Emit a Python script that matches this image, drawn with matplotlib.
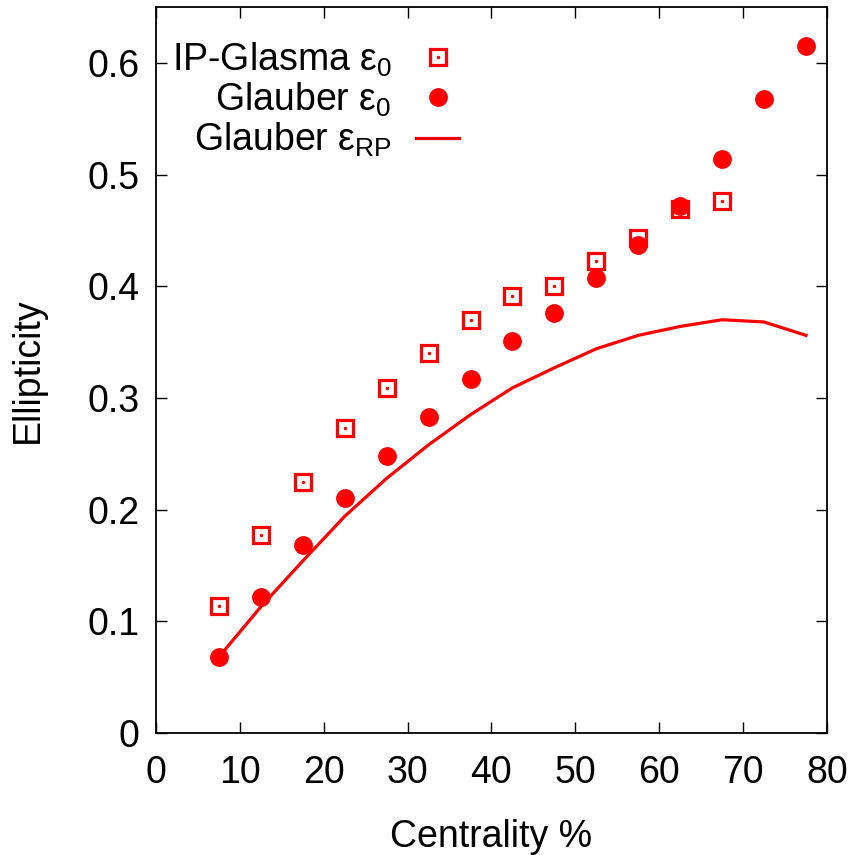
import matplotlib
matplotlib.use("Agg")
import matplotlib.pyplot as plt
from matplotlib.legend_handler import HandlerTuple

# centrality bin centres
cent_ip = [7.5, 12.5, 17.5, 22.5, 27.5, 32.5, 37.5, 42.5, 47.5, 52.5, 57.5, 62.5, 67.5]
ecc_ip = [0.114, 0.177, 0.225, 0.273, 0.309, 0.340, 0.370, 0.391, 0.400, 0.423, 0.443, 0.469, 0.476]

cent_gl = [7.5, 12.5, 17.5, 22.5, 27.5, 32.5, 37.5, 42.5, 47.5, 52.5, 57.5, 62.5, 67.5, 72.5, 77.5]
ecc_gl = [0.068, 0.122, 0.168, 0.210, 0.248, 0.283, 0.317, 0.351, 0.376, 0.407, 0.437, 0.472, 0.514, 0.568, 0.615]

ecc_rp = [0.068, 0.113, 0.154, 0.194, 0.228, 0.258, 0.285, 0.309, 0.327, 0.344, 0.356, 0.364, 0.370, 0.368, 0.356]

plt.rcParams['font.family'] = ['Liberation Sans', 'DejaVu Sans']
plt.rcParams['mathtext.fontset'] = 'custom'
plt.rcParams['mathtext.rm'] = 'Liberation Sans'
plt.rcParams['mathtext.it'] = 'Liberation Sans'

red = '#ff0000'
fs = 27
fig = plt.figure(figsize=(8.59, 8.55), dpi=100)
ax = fig.add_axes([0.1816, 0.1427, 0.7811, 0.8491])

line, = ax.plot(cent_gl, ecc_rp, color=red, lw=2.3, zorder=2)
sq, = ax.plot(cent_ip, ecc_ip, ls='none', marker='s', ms=11, mfc='none',
              mec=red, mew=2.3, zorder=3)
dot, = ax.plot(cent_ip, ecc_ip, ls='none', marker='o', ms=2.5, mfc=red,
               mec=red, mew=0, zorder=3)
circ, = ax.plot(cent_gl, ecc_gl, ls='none', marker='o', ms=12.5, color=red, zorder=4)

ax.set_xlim(0, 80)
ax.set_ylim(0, 0.65)
ax.set_xticks(range(0, 81, 10))
ax.set_yticks([0, 0.1, 0.2, 0.3, 0.4, 0.5, 0.6])
ax.set_yticklabels(['0', '0.1', '0.2', '0.3', '0.4', '0.5', '0.6'])
ax.tick_params(direction='in', length=8, width=1, labelsize=fs, pad=12,
               top=True, right=True)
ax.tick_params(axis='x', pad=16)
for s in ax.spines.values():
    s.set_linewidth(1.3)

ax.set_xlabel('Centrality %', fontsize=fs, labelpad=20)
ax.set_ylabel('Ellipticity', fontsize=fs, labelpad=30)

leg = ax.legend([(sq, dot), circ, line],
                ['IP-Glasma ε$_0$', 'Glauber ε$_0$', 'Glauber ε$_{RP}$'],
                handler_map={tuple: HandlerTuple(ndivide=1)},
                loc='upper left', bbox_to_anchor=(-0.01, 0.985), frameon=False,
                markerfirst=False, fontsize=fs, handlelength=1.15,
                labelspacing=0.05, borderaxespad=0.2, handletextpad=0.65)
for t in leg.get_texts():
    t.set_ha('right')
leg._legend_box.align = 'right'

fig.savefig('out.png', dpi=100)
